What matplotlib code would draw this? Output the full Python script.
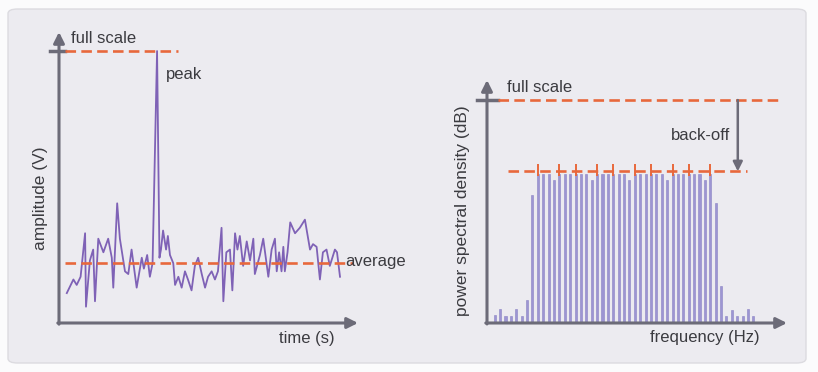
from matplotlib import pyplot as plt
from matplotlib.patches import FancyBboxPatch
import numpy as np

# ---- left panel: time signal ----
time_s = [0.26, 0.48, 0.59, 0.72, 0.87, 0.90, 1.03, 1.14, 1.20, 1.31, 1.48, 1.64, 1.76, 1.81,
          1.94, 2.03, 2.20, 2.31, 2.42, 2.59, 2.76, 2.83, 2.94, 3.03, 3.12, 3.27, 3.35, 3.40,
          3.47, 3.57, 3.63, 3.70, 3.81, 3.87, 3.98, 4.09, 4.20, 4.30, 4.42, 4.53, 4.64, 4.76,
          4.87, 4.97, 5.09, 5.20, 5.30, 5.42, 5.48, 5.58, 5.70, 5.78, 5.87, 5.95, 6.03, 6.14,
          6.26, 6.37, 6.48, 6.53, 6.70, 6.81, 6.98, 7.09, 7.20, 7.26, 7.34, 7.42, 7.48, 7.53,
          7.62, 7.71, 7.87, 8.03, 8.20, 8.37, 8.47, 8.59, 8.70, 8.80, 8.92, 9.03, 9.20, 9.27, 9.37]
amplitude = [0.11, 0.16, 0.14, 0.17, 0.33, 0.06, 0.23, 0.27, 0.08, 0.31, 0.26, 0.31, 0.24, 0.13,
             0.44, 0.31, 0.19, 0.18, 0.27, 0.13, 0.24, 0.20, 0.25, 0.17, 0.22, 1.00, 0.24, 0.27,
             0.34, 0.27, 0.32, 0.25, 0.22, 0.14, 0.17, 0.13, 0.19, 0.16, 0.12, 0.21, 0.24, 0.18,
             0.13, 0.17, 0.19, 0.16, 0.19, 0.35, 0.08, 0.26, 0.27, 0.12, 0.33, 0.27, 0.32, 0.21,
             0.30, 0.23, 0.31, 0.18, 0.25, 0.31, 0.17, 0.27, 0.31, 0.19, 0.26, 0.19, 0.28, 0.19,
             0.26, 0.37, 0.33, 0.35, 0.38, 0.27, 0.29, 0.28, 0.16, 0.26, 0.27, 0.21, 0.27, 0.26, 0.17]
full_scale_v = 1.0
average_v = 0.22

# ---- right panel: spectrum ----
psd = [3.6, 6.3, 3.1, 3.1, 6.3, 3.1, 10.1, 57.4,
       67, 67, 67, 64, 67, 67, 67, 67, 67, 67, 64, 67, 67, 67, 67, 67, 67, 64,
       67, 67, 67, 67, 67, 67, 64, 67, 67, 67, 67, 67, 67, 64, 67,
       54.0, 16.6, 3.1, 5.8, 3.1, 3.1, 6.3, 3.1]
marked_bins = [8, 12, 15, 19, 22, 26, 29, 33, 36, 40]
full_scale_db = 100
backoff_db = 68

orange = '#e8683c'
purple = '#7f62b6'
bar_col = '#9d95d3'
axis_col = '#6c6b78'
text_col = '#3b3b40'
font = 'Liberation Sans'

fig = plt.figure(figsize=(8.18, 3.72), dpi=100)
fig.patch.set_facecolor('#fbfbfc')
W, H = 818, 372
panel = FancyBboxPatch((8 / W, 9 / H), 798 / W, 354 / H,
                       boxstyle='round,pad=0,rounding_size=0.012',
                       transform=fig.transFigure, facecolor='#ecebf0',
                       edgecolor='#dcdbe0', lw=1.0, zorder=-10)
fig.patches.append(panel)


def arrow_axes(ax):
    for s in ax.spines.values():
        s.set_visible(False)
    ax.set_xticks([])
    ax.set_yticks([])
    ax.patch.set_alpha(0)
    ap = dict(arrowstyle='-|>', color=axis_col, lw=2.2, mutation_scale=16, shrinkA=0, shrinkB=0)
    ax.annotate('', xy=(1, 0), xytext=(-0.004, 0), xycoords='axes fraction', arrowprops=ap)
    ax.annotate('', xy=(0, 1), xytext=(0, -0.004), xycoords='axes fraction', arrowprops=ap)


# left chart
ax1 = fig.add_axes([59 / W, 49 / H, 299 / W, 291 / H])
ax1.set_xlim(0, 9.97)
ax1.set_ylim(0, 1.07)
arrow_axes(ax1)
ax1.plot(time_s, amplitude, color=purple, lw=1.3, zorder=2)
ax1.plot([0.2, 3.97], [full_scale_v] * 2, color=orange, lw=1.9, dashes=(4, 2), zorder=3)
ax1.plot([0.2, 9.8], [average_v] * 2, color=orange, lw=1.9, dashes=(4, 2), zorder=3)
ax1.plot([-0.3, 0.2], [full_scale_v] * 2, color=axis_col, lw=2.5, clip_on=False)
ax1.text(0.4, 1.045, 'full scale', fontsize=12, family=font, color=text_col, va='center')
ax1.text(3.57, 0.915, 'peak', fontsize=12, family=font, color=text_col, va='center')
ax1.text(9.53, 0.225, 'average', fontsize=12, family=font, color=text_col, va='center')
ax1.text(8.27, -0.058, 'time (s)', fontsize=12, family=font, color=text_col, ha='center', va='center')
ax1.text(-0.63, 0.46, 'amplitude (V)', fontsize=12.5, family=font, color=text_col,
         ha='center', va='center', rotation=90)

# right chart
ax2 = fig.add_axes([487 / W, 49 / H, 300 / W, 243 / H])
ax2.set_xlim(-1.43, 54.23)
ax2.set_ylim(0, 109)
arrow_axes(ax2)
bins = np.arange(len(psd))
ax2.bar(bins, psd, width=0.38, color=bar_col, edgecolor='#8a82c4', lw=0.4, zorder=2)
ax2.plot(bins[marked_bins], [backoff_db + 0.6] * len(marked_bins), '|', color=orange,
         ms=8, mew=1.4, zorder=3)
ax2.plot([0.61, 53.3], [full_scale_db] * 2, color=orange, lw=1.9, dashes=(4, 2), zorder=3)
ax2.plot([2.47, 46.8], [backoff_db] * 2, color=orange, lw=1.9, dashes=(4, 2), zorder=3)
ax2.plot([-3.3, 0.61], [full_scale_db] * 2, color=axis_col, lw=2.5, clip_on=False)
ax2.annotate('', xy=(45.1, backoff_db), xytext=(45.1, full_scale_db),
             arrowprops=dict(arrowstyle='-|>', color=axis_col, lw=1.8, mutation_scale=14,
                             shrinkA=0, shrinkB=0))
ax2.text(2.2, 105.5, 'full scale', fontsize=12, family=font, color=text_col, va='center')
ax2.text(43.6, 84.3, 'back-off', fontsize=12, family=font, color=text_col, va='center', ha='right')
ax2.text(39.0, -6.7, 'frequency (Hz)', fontsize=12, family=font, color=text_col,
         ha='center', va='center')
ax2.text(-5.9, 50.5, 'power spectral density (dB)', fontsize=12.5, family=font, color=text_col,
         ha='center', va='center', rotation=90)

fig.savefig('out.png', dpi=100)
